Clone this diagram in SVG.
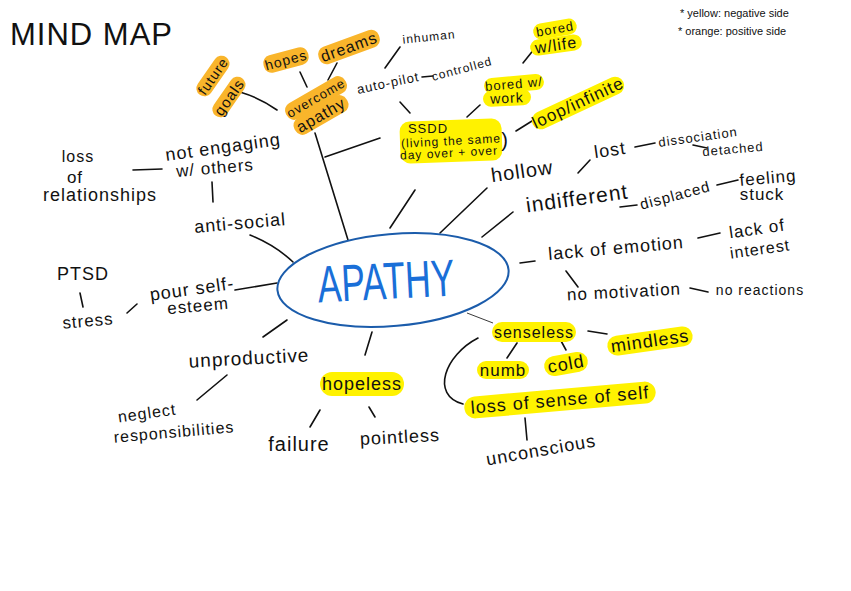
<svg xmlns="http://www.w3.org/2000/svg" width="851" height="591" viewBox="0 0 851 591">
<style>
.t{font-family:"Liberation Sans",Arial,sans-serif;fill:#111;text-anchor:middle;dominant-baseline:central;letter-spacing:1px}
.ln{stroke:#111;stroke-width:1.6;fill:none;stroke-linecap:round}
.thin{stroke:#222;stroke-width:0.9;fill:none}
.y{fill:#fff200}
.o{fill:#f9b52b}
</style>
<rect width="851" height="591" fill="#fff"/>
<g id="title"><text x="10" y="45" font-family="Liberation Sans,Arial,sans-serif" font-size="31" letter-spacing="1" fill="#111">MIND MAP</text></g>
<g id="legend" font-family="Liberation Sans,Arial,sans-serif" font-size="11" fill="#111">
<text x="680" y="17">* yellow: negative side</text>
<text x="678" y="35">* orange: positive side</text>
</g>
<g id="connectors">
<path class="ln" d="M240,92 Q260,98 277,110"/>
<path class="ln" d="M300,72 L307,87"/>
<path class="ln" d="M337,63 L328,80"/>
<path class="ln" d="M315,133 L348,240"/>
<path class="ln" d="M325,157 L380,138"/>
<path class="ln" d="M385,68 L400,47"/>
<path class="ln" d="M422,77 L433,76"/>
<path class="ln" d="M400,102 L410,113"/>
<path class="ln" d="M467,117 L480,105"/>
<path class="ln" d="M523,63 L535,48"/>
<path class="ln" d="M516,131 L532,121"/>
<path class="ln" d="M390,228 L415,190"/>
<path class="ln" d="M440,233 L487,188"/>
<path class="ln" d="M482,237 L513,212"/>
<path class="ln" d="M578,173 L590,160"/>
<path class="ln" d="M635,147 L655,143"/>
<path class="ln" d="M693,145 L707,148"/>
<path class="ln" d="M620,207 L637,205"/>
<path class="ln" d="M717,185 L738,180"/>
<path class="ln" d="M520,263 L535,261"/>
<path class="ln" d="M698,238 L720,233"/>
<path class="ln" d="M566,271 L578,287"/>
<path class="ln" d="M690,288 L708,292"/>
<path class="thin" d="M467,313 L493,323"/>
<path class="ln" d="M517,343 L507,358"/>
<path class="ln" d="M560,339 L566,350"/>
<path class="ln" d="M588,331 L607,334"/>
<path class="ln" stroke-width="1.2" d="M478,338 C445,355 430,395 463,404"/>
<path class="ln" d="M525,418 L527,440"/>
<path class="ln" d="M372,332 L365,355"/>
<path class="ln" d="M320,410 L310,427"/>
<path class="ln" d="M369,407 L375,417"/>
<path class="ln" d="M287,320 L263,337"/>
<path class="ln" d="M227,375 L197,400"/>
<path class="ln" d="M235,290 L277,283"/>
<path class="ln" d="M127,313 L137,304"/>
<path class="ln" d="M80,293 L83,307"/>
<path class="ln" d="M250,235 Q275,245 293,262"/>
<path class="ln" d="M212,182 L213,202"/>
<path class="ln" d="M133,170 L162,169"/>
</g>
<g id="n-apathy">
<ellipse cx="393" cy="280" rx="116" ry="46" transform="rotate(-5 393 280)" fill="none" stroke="#1b5cab" stroke-width="2"/>
<text x="386" y="281" font-family="Liberation Sans,Arial,sans-serif" font-size="52" fill="#1a6fd8" text-anchor="middle" dominant-baseline="central" textLength="137" lengthAdjust="spacingAndGlyphs" transform="rotate(-3 386 281)">APATHY</text>
</g>
<g id="n-future-goals">
<g transform="translate(213,76) rotate(-55)"><rect class="o" x="-23" y="-8" width="46" height="16" rx="8"/><text class="t" font-size="14">future</text></g>
<g transform="translate(229,97) rotate(-55)"><rect class="o" x="-23" y="-8" width="46" height="16" rx="8"/><text class="t" font-size="15">goals</text></g>
</g>
<g id="n-hopes" transform="translate(286,60) rotate(-15)"><rect class="o" x="-23" y="-9" width="46" height="18" rx="8"/><text class="t" font-size="14">hopes</text></g>
<g id="n-dreams" transform="translate(349,47) rotate(-20)"><rect class="o" x="-32" y="-9" width="64" height="18" rx="8"/><text class="t" font-size="16">dreams</text></g>
<g id="n-overcome">
<g transform="translate(316,98) rotate(-30)"><rect class="o" x="-34" y="-9" width="68" height="18" rx="8"/><text class="t" font-size="13">overcome</text></g>
<g transform="translate(321,115) rotate(-30)"><rect class="o" x="-30" y="-9" width="60" height="18" rx="8"/><text class="t" font-size="16">apathy</text></g>
</g>
<g id="n-inhuman" transform="translate(429,37) rotate(-6)"><text class="t" font-size="12" letter-spacing="0.5">inhuman</text></g>
<g id="n-autopilot" transform="translate(388,83) rotate(-12)"><text class="t" font-size="13" letter-spacing="0.5">auto-pilot</text></g>
<g id="n-controlled" transform="translate(462,69) rotate(-15)"><text class="t" font-size="12" letter-spacing="0.2">controlled</text></g>
<g id="n-ssdd">
<rect class="y" x="400" y="120" width="102" height="42" rx="10" transform="rotate(-2 451 141)"/>
<text class="t" x="428" y="128" font-size="13">SSDD</text>
<text class="t" x="451" y="141" font-size="12" letter-spacing="0.3" transform="rotate(-3 451 141)">(living the same</text>
<text class="t" x="449" y="153" font-size="12" letter-spacing="0.3" transform="rotate(-3 449 153)">day over + over</text>
<text class="t" x="505" y="140" font-size="20" letter-spacing="0">)</text>
</g>
<g id="n-bored-work">
<g transform="translate(514,84) rotate(-5)"><rect class="y" x="-30" y="-8" width="60" height="16" rx="8"/><text class="t" font-size="13" letter-spacing="0.5">bored w/</text></g>
<g transform="translate(507,98) rotate(-3)"><rect class="y" x="-24" y="-8" width="48" height="16" rx="8"/><text class="t" font-size="14">work</text></g>
</g>
<g id="n-bored-life">
<g transform="translate(555,29) rotate(-10)"><rect class="y" x="-22" y="-8" width="44" height="16" rx="8"/><text class="t" font-size="13" letter-spacing="0.5">bored</text></g>
<g transform="translate(556,45) rotate(-8)"><rect class="y" x="-26" y="-8" width="52" height="16" rx="8"/><text class="t" font-size="16">w/life</text></g>
</g>
<g id="n-loop" transform="translate(578,103) rotate(-25)"><rect class="y" x="-50" y="-9" width="100" height="18" rx="9"/><text class="t" font-size="17" letter-spacing="0.5">loop/infinite</text></g>
<g id="n-hollow" transform="translate(522,171) rotate(-8)"><text class="t" font-size="20" letter-spacing="1.5">hollow</text></g>
<g id="n-lost" transform="translate(610,150) rotate(-8)"><text class="t" font-size="18" letter-spacing="2">lost</text></g>
<g id="n-dissociation" transform="translate(698,137) rotate(-8)"><text class="t" font-size="13" letter-spacing="0">dissociation</text></g>
<g id="n-detached" transform="translate(733,149) rotate(-5)"><text class="t" font-size="13" letter-spacing="0">detached</text></g>
<g id="n-indifferent" transform="translate(577,198) rotate(-8)"><text class="t" font-size="21">indifferent</text></g>
<g id="n-displaced" transform="translate(675,195) rotate(-15)"><text class="t" font-size="15" letter-spacing="0.5">displaced</text></g>
<g id="n-feeling-stuck">
<text class="t" x="768" y="178" font-size="17" transform="rotate(-5 768 178)">feeling</text>
<text class="t" x="762" y="194" font-size="17">stuck</text>
</g>
<g id="n-lack-interest">
<text class="t" x="757" y="229" font-size="17" transform="rotate(-8 757 229)">lack of</text>
<text class="t" x="760" y="249" font-size="16" transform="rotate(-8 760 249)">interest</text>
</g>
<g id="n-lack-emotion" transform="translate(616,248) rotate(-5)"><text class="t" font-size="18">lack of emotion</text></g>
<g id="n-no-motivation" transform="translate(624,292) rotate(-3)"><text class="t" font-size="17">no motivation</text></g>
<g id="n-no-reactions" transform="translate(760,290)"><text class="t" font-size="14" letter-spacing="0.5">no reactions</text></g>
<g id="n-senseless" transform="translate(534,332)"><rect class="y" x="-42" y="-10" width="84" height="20" rx="10"/><text class="t" font-size="16">senseless</text></g>
<g id="n-numb" transform="translate(503,370)"><rect class="y" x="-26" y="-9" width="52" height="18" rx="9"/><text class="t" font-size="17">numb</text></g>
<g id="n-cold" transform="translate(566,364) rotate(-10)"><rect class="y" x="-22" y="-10" width="44" height="20" rx="10"/><text class="t" font-size="18">cold</text></g>
<g id="n-mindless" transform="translate(650,341) rotate(-8)"><rect class="y" x="-43" y="-10" width="86" height="20" rx="10"/><text class="t" font-size="18">mindless</text></g>
<g id="n-loss-self" transform="translate(560,400) rotate(-5)"><rect class="y" x="-96" y="-11" width="192" height="22" rx="11"/><text class="t" font-size="18" letter-spacing="1.6">loss of sense of self</text></g>
<g id="n-unconscious" transform="translate(541,450) rotate(-10)"><text class="t" font-size="18">unconscious</text></g>
<g id="n-hopeless" transform="translate(362,384)"><rect class="y" x="-42" y="-12" width="84" height="24" rx="12"/><text class="t" font-size="18">hopeless</text></g>
<g id="n-failure" transform="translate(299,444)"><text class="t" font-size="20" letter-spacing="1.5">failure</text></g>
<g id="n-pointless" transform="translate(400,437) rotate(-3)"><text class="t" font-size="18">pointless</text></g>
<g id="n-unproductive" transform="translate(249,358) rotate(-3)"><text class="t" font-size="19" letter-spacing="1.2">unproductive</text></g>
<g id="n-neglect">
<text class="t" x="147" y="413" font-size="16" letter-spacing="0.5" transform="rotate(-8 147 413)">neglect</text>
<text class="t" x="174" y="432" font-size="16" letter-spacing="0.5" transform="rotate(-5 174 432)">responsibilities</text>
</g>
<g id="n-poor-self-esteem">
<text class="t" x="192" y="289" font-size="18" transform="rotate(-8 192 289)">pour self-</text>
<text class="t" x="198" y="306" font-size="17" transform="rotate(-5 198 306)">esteem</text>
</g>
<g id="n-ptsd" transform="translate(83,274)"><text class="t" font-size="18">PTSD</text></g>
<g id="n-stress" transform="translate(88,321) rotate(-5)"><text class="t" font-size="17">stress</text></g>
<g id="n-anti-social" transform="translate(240,223) rotate(-5)"><text class="t" font-size="18" letter-spacing="1.5">anti-social</text></g>
<g id="n-not-engaging">
<text class="t" x="223" y="147" font-size="18" transform="rotate(-8 223 147)">not engaging</text>
<text class="t" x="215" y="168" font-size="17" transform="rotate(-5 215 168)">w/ others</text>
</g>
<g id="n-loss-relationships">
<text class="t" x="78" y="156" font-size="16">loss</text>
<text class="t" x="75" y="177" font-size="17">of</text>
<text class="t" x="100" y="195" font-size="18">relationships</text>
</g>
</svg>
